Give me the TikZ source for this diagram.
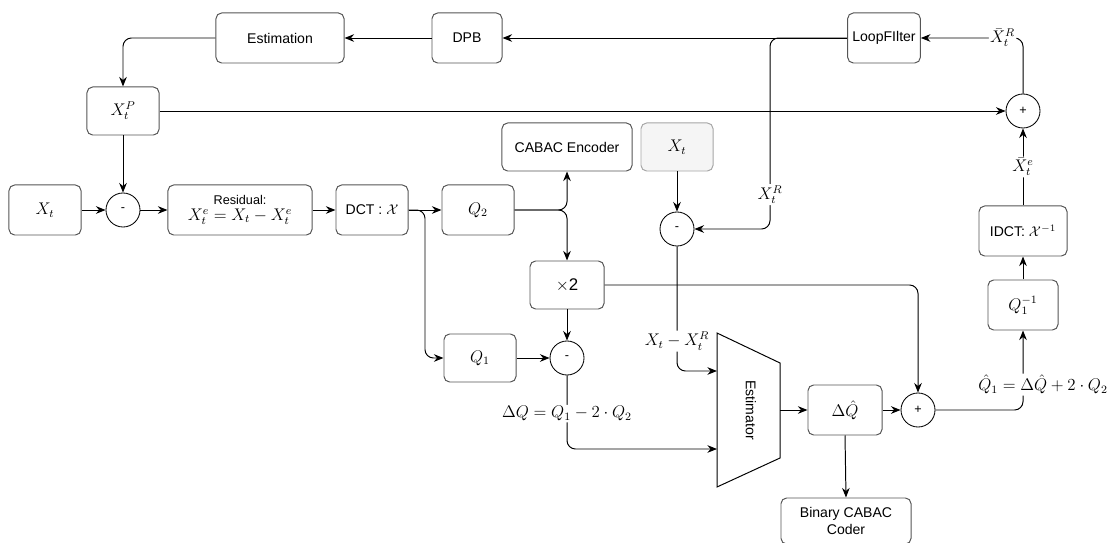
\documentclass[tikz,border=0pt]{standalone}
\usepackage{amsmath}
\usepackage{amssymb}
\usepackage{fontspec}
\setsansfont{Liberation Sans}
\usetikzlibrary{arrows.meta,positioning,calc}
\definecolor{boxgray}{RGB}{85,85,85}
\definecolor{ghostgray}{RGB}{245,245,245}
\tikzset{
  blk/.style={rectangle,draw=boxgray,fill=white,minimum width=#1,align=center,
    minimum height=1.25cm,rounded corners=4pt,font=\sffamily,line width=0.7pt},
  blk/.default=1.8cm,
  sum/.style={circle,draw=black,minimum size=0.85cm,inner sep=0pt,font=\small\sffamily,line width=0.6pt},
  arr/.style={-{Stealth[length=2.4mm,width=1.9mm]},line width=0.7pt,rounded corners=6pt},
  lbl/.style={fill=white,inner sep=1pt,font=\large}
}
\begin{document}
\begin{tikzpicture}[x=0.025cm,y=-0.025cm]
    \useasboundingbox (0,0) rectangle (1110,543);

    % Top loop
    \node[blk=3.2cm] (estim) at (280,38) {Estimation};
    \node[blk=1.75cm] (dpb) at (467,38) {DPB};
    \node[blk=1.7cm] (loop) at (884,38) {LoopFIlter};
    \node[blk,minimum height=1.2cm] (xp) at (123,111) {\large $X_t^P$};
    \node[sum] (plustop) at (1023,111) {+};

    % Main row
    \node[blk] (xt) at (45,210) {\large $X_t$};
    \node[sum] (minus) at (123,210) {-};
    \node[blk=3.6cm,font=\sffamily\large] (resid) at (240,210) {{\small Residual:}\\[-3pt] $X_t^e = X_t - X_t^e$};
    \node[blk] (dct) at (372,210) {DCT : $\mathcal{X}$};
    \node[blk] (q2) at (478,210) {\large $Q_2$};

    % Middle
    \node[blk=3.25cm,minimum height=1.2cm] (cabac) at (567,147) {CABAC Encoder};
    \node[blk,minimum height=1.2cm,draw=black!35,fill=ghostgray] (xtin) at (677,147) {\large $X_t$};
    \node[sum] (minusmid) at (677,229) {-};
    \node[blk=1.85cm,minimum height=1.2cm,font=\sffamily\large] (times) at (567,285) {$\times$2};
    \node[blk,minimum height=1.2cm] (q1) at (480,358) {\large $Q_1$};
    \node[sum] (minusbot) at (567,358) {-};

    % Estimator
    \draw[line width=0.7pt] (717,333) -- (780,363) -- (780,458) -- (717,487) -- cycle;
    \node[rotate=-90,font=\sffamily] (estlbl) at (751,410) {Estimator};
    \coordinate (estin1) at (717,371);
    \coordinate (estin2) at (717,449);
    \coordinate (estout) at (780,410);

    % Right side
    \node[blk=1.85cm] (dqhat) at (845,410) {\large $\Delta\hat{Q}$};
    \node[sum] (plusbot) at (918,410) {+};
    \node[blk=3.25cm,minimum height=1.15cm] (bincabac) at (846,521) {Binary CABAC\\Coder};
    \node[blk=1.75cm] (q1inv) at (1023,305) {\large $Q_1^{-1}$};
    \node[blk=2.2cm] (idct) at (1023,231) {IDCT: $\mathcal{X}^{-1}$};

    \coordinate (dctsplit) at (425,210);
    \coordinate (fbsplit) at (770,38);

    % Arrows
    \draw[arr] (loop.west) -- (dpb.east);
    \draw[arr] (dpb.west) -- (estim.east);
    \draw[arr] (estim.west) -| (xp.north);
    \draw[arr] (xp.east) -- (plustop.west);
    \draw[arr] (xp.south) -- (minus.north);
    \draw[arr] (xt.east) -- (minus.west);
    \draw[arr] (minus.east) -- (resid.west);
    \draw[arr] (resid.east) -- (dct.west);
    \draw[arr] (dct.east) -- (q2.west);
    \draw[arr] (dct.east) -- (dctsplit) |- (q1.west);
    \draw[arr] (q2.east) -| (cabac.south);
    \draw[arr] (q2.east) -| (times.north);
    \draw[arr] (loop.west) -- (fbsplit) |- node[lbl,pos=0.41] {$X_t^R$} (minusmid.east);
    \draw[arr] (xtin.south) -- (minusmid.north);
    \draw[arr] (minusmid.south) |- node[lbl,pos=0.38] {$X_t - X_t^R$} (estin1);
    \draw[arr] (times.south) -- (minusbot.north);
    \draw[arr] (times.east) -| (plusbot.north);
    \draw[arr] (q1.east) -- (minusbot.west);
    \draw[arr] (minusbot.south) |- node[lbl,pos=0.26] {$\Delta Q = Q_1 - 2 \cdot Q_2$} (estin2);
    \draw[arr] (estout) -- (dqhat.west);
    \draw[arr] (dqhat.east) -- (plusbot.west);
    \draw[arr] (dqhat.south) -- (bincabac.north);
    \draw[arr] (plusbot.east) -| node[lbl,pos=0.66,xshift=5mm] {$\hat{Q}_1 = \Delta\hat{Q} + 2 \cdot Q_2$} (q1inv.south);
    \draw[arr] (q1inv.north) -- (idct.south);
    \draw[arr] (idct.north) -- node[lbl] {$\bar{X}_t^e$} (plustop.south);
    \draw[arr] (plustop.north) |- node[lbl,pos=0.6] {$\bar{X}_t^R$} (loop.east);
  \end{tikzpicture}
\end{document}
